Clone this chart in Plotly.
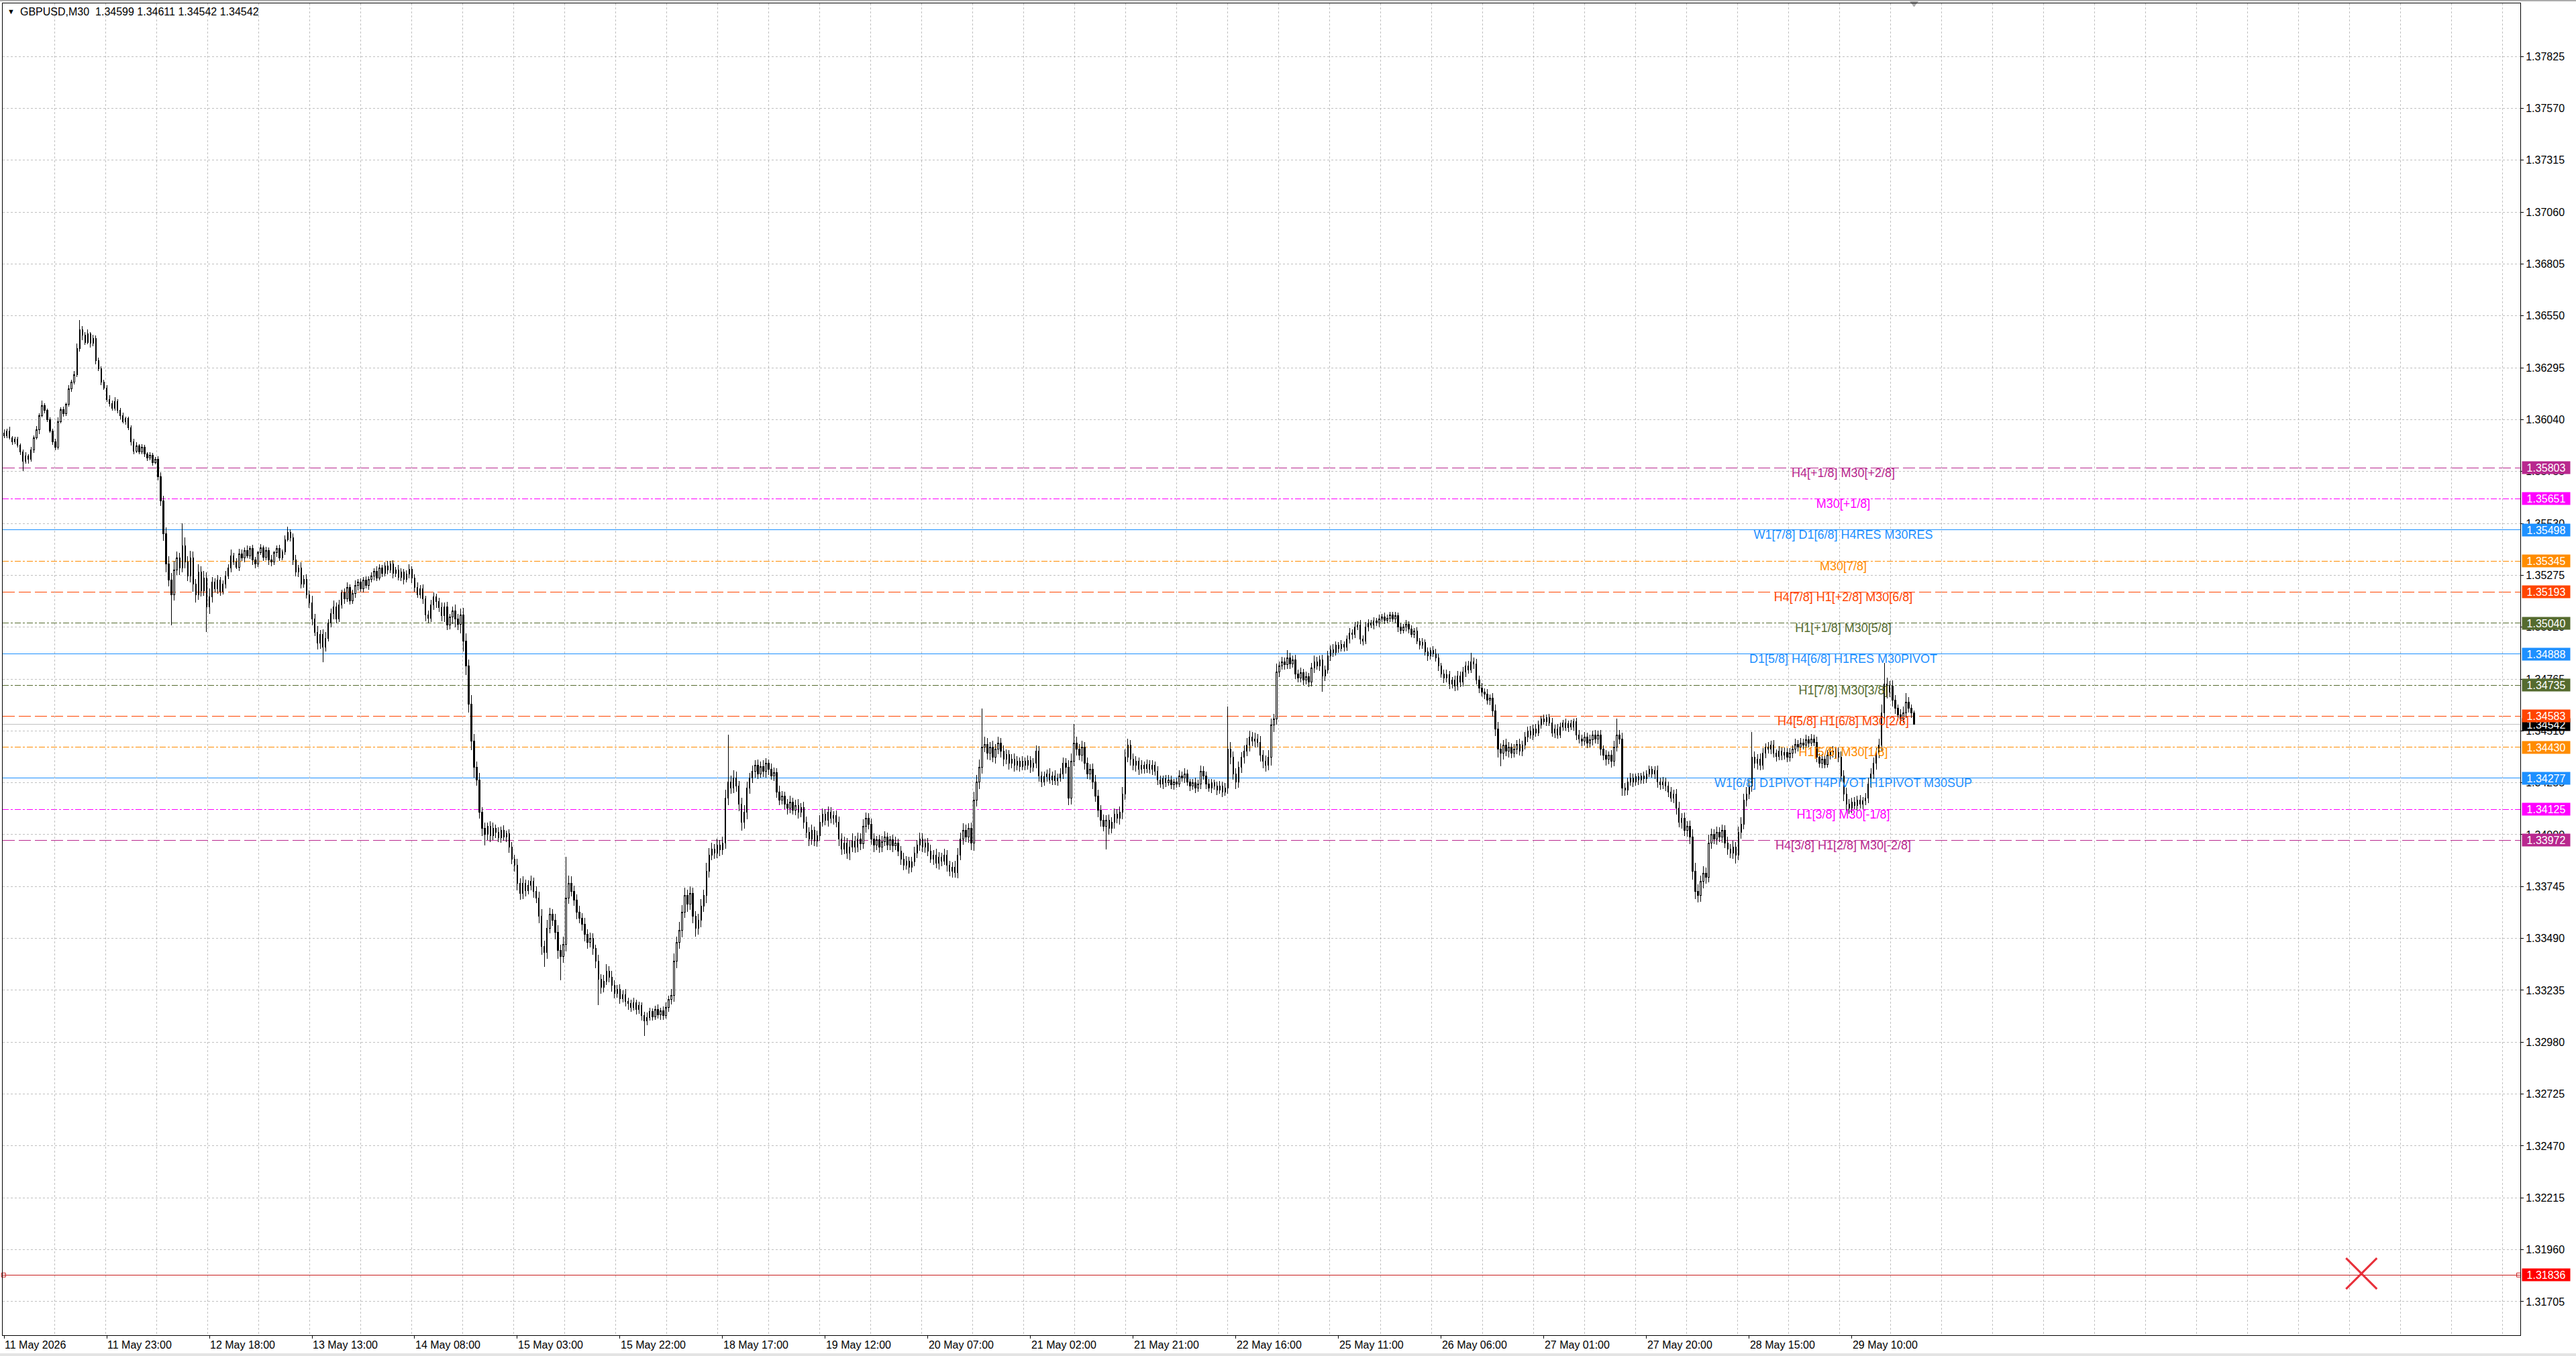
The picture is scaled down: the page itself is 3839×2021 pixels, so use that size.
import numpy as np
import pandas as pd
import plotly.graph_objects as go

SYMBOL = "GBPUSD,M30"
FIRST_BAR = "2026-05-11 04:00"
LAST_BAR = "2026-05-29 21:30"

# closes and wicks are in points (0.00001) above BASE; open = previous close
BASE = 1.3
FIRST_OPEN = 5975

# --- 11 May (04:00 .. 23:30)
C_11 = [5960, 5985, 5950, 5930, 5945, 5915, 5880, 5835,
        5860, 5845, 5890, 5950, 5990, 6060, 6110, 6085,
        6040, 5985, 5930, 5905, 6030, 6090, 6070, 6115,
        6190, 6225, 6260, 6390, 6480, 6455, 6420, 6460,
        6415, 6440, 6330, 6290, 6225, 6195, 6140, 6120]
U_11 = [15, 10, 20, 8, 12, 10, 8, 12,
        20, 10, 15, 12, 18, 10, 25, 10,
        8, 12, 10, 15, 20, 12, 15, 10,
        18, 12, 20, 25, 48, 20, 15, 22,
        10, 18, 12, 15, 10, 12, 15, 20]
D_11 = [10, 12, 8, 15, 10, 12, 15, 47,
        12, 20, 10, 15, 8, 20, 10, 15,
        12, 10, 15, 17, 12, 10, 15, 12,
        10, 15, 12, 10, 15, 25, 12, 10,
        20, 15, 18, 12, 15, 10, 12, 15]

# --- 12 May
C_12 = [6095, 6130, 6085, 6060, 6030, 6045, 6000, 5930,
        5885, 5910, 5880, 5905, 5870, 5850, 5865, 5830,
        5845, 5760, 5640, 5480, 5330, 5250, 5180, 5300,
        5360, 5310, 5420, 5340, 5270, 5360, 5230, 5180,
        5290, 5200, 5260, 5120, 5170, 5240, 5210, 5250,
        5195, 5230, 5270, 5310, 5370, 5340, 5315, 5380]
U_12 = [15, 20, 10, 12, 15, 10, 8, 12,
        15, 20, 10, 15, 12, 10, 15, 12,
        10, 15, 20, 25, 30, 40, 35, 45,
        30, 25, 109, 40, 30, 35, 30, 25,
        40, 30, 35, 30, 40, 25, 20, 25,
        15, 20, 25, 20, 30, 15, 20, 25]
D_12 = [12, 10, 15, 20, 10, 15, 12, 18,
        15, 10, 12, 10, 15, 12, 10, 15,
        10, 20, 25, 35, 40, 30, 150, 30,
        25, 35, 20, 30, 25, 30, 35, 40,
        25, 30, 25, 125, 35, 30, 20, 25,
        20, 15, 20, 15, 20, 15, 10, 20]

# --- 13 May
C_13 = [5360, 5395, 5370, 5405, 5350, 5330, 5385, 5410,
        5365, 5395, 5350, 5340, 5385, 5405, 5360, 5390,
        5450, 5485, 5460, 5350, 5290, 5310, 5230, 5255,
        5180, 5140, 5060, 4995, 4940, 4985, 4920, 4965,
        5040, 5085, 5120, 5060, 5130, 5190, 5160, 5215,
        5150, 5185, 5225, 5240, 5210, 5250, 5225, 5255]
U_13 = [20, 15, 25, 12, 20, 15, 10, 18,
        12, 20, 15, 25, 10, 15, 20, 12,
        20, 27, 15, 20, 25, 15, 30, 20,
        25, 20, 35, 25, 30, 20, 25, 30,
        20, 25, 30, 20, 25, 15, 20, 25,
        15, 20, 25, 15, 20, 15, 20, 15]
D_13 = [15, 20, 10, 15, 25, 20, 15, 10,
        20, 15, 25, 20, 15, 20, 15, 10,
        15, 10, 20, 25, 20, 25, 20, 15,
        20, 25, 30, 20, 30, 25, 72, 20,
        15, 20, 25, 20, 15, 20, 25, 15,
        20, 15, 20, 25, 15, 20, 15, 20]

# --- 14 May
C_14 = [5270, 5295, 5260, 5310, 5285, 5320, 5300, 5330,
        5285, 5300, 5265, 5290, 5255, 5280, 5305, 5260,
        5215, 5180, 5210, 5160, 5080, 5065, 5130, 5170,
        5145, 5115, 5075, 5120, 5030, 5070, 5100, 5060,
        5035, 5080, 4950, 4830, 4640, 4460, 4330, 4270,
        4110, 4030, 4000, 4040, 3995, 4030, 4010, 3985]
U_14 = [20, 15, 25, 20, 15, 20, 25, 15,
        20, 15, 25, 20, 15, 20, 25, 15,
        20, 25, 15, 20, 15, 20, 25, 20,
        15, 20, 25, 20, 25, 15, 20, 30,
        25, 30, 35, 40, 30, 45, 35, 30,
        35, 25, 30, 20, 25, 30, 20, 25]
D_14 = [15, 20, 15, 10, 20, 15, 20, 15,
        25, 20, 15, 20, 25, 15, 20, 25,
        20, 15, 20, 25, 30, 25, 20, 25,
        30, 20, 25, 30, 25, 20, 35, 40,
        30, 45, 50, 45, 40, 45, 50, 30,
        30, 35, 54, 25, 30, 20, 25, 20]

# --- 15 May
C_15 = [4020, 3990, 4005, 3940, 3880, 3850, 3760, 3710,
        3760, 3725, 3750, 3770, 3720, 3690, 3600, 3450,
        3420, 3540, 3610, 3580, 3520, 3430, 3400, 3460,
        3690, 3760, 3720, 3680, 3620, 3590, 3560, 3510,
        3470, 3490, 3440, 3380, 3290, 3250, 3280, 3330,
        3300, 3260, 3220, 3240, 3195, 3215, 3180, 3170]
U_15 = [20, 25, 15, 20, 25, 20, 30, 25,
        35, 20, 25, 30, 20, 25, 30, 35,
        30, 40, 30, 25, 30, 35, 30, 40,
        200, 40, 35, 30, 25, 30, 25, 30,
        25, 30, 25, 20, 30, 25, 30, 35,
        25, 30, 25, 20, 25, 20, 25, 20]
D_15 = [25, 20, 25, 30, 25, 30, 35, 30,
        25, 30, 20, 25, 30, 25, 35, 40,
        69, 30, 25, 30, 35, 40, 117, 30,
        35, 30, 25, 30, 35, 25, 30, 35,
        30, 25, 30, 35, 126, 30, 25, 20,
        25, 30, 25, 20, 25, 20, 25, 30]

# --- 18 May
C_18 = [3150, 3175, 3140, 3160, 3110, 3085, 3100, 3130,
        3105, 3140, 3115, 3135, 3110, 3150, 3190, 3210,
        3380, 3470, 3530, 3620, 3700, 3660, 3710, 3600,
        3540, 3580, 3650, 3700, 3820, 3900, 3930, 3910,
        3950, 3925, 3960, 4180, 4260, 4230, 4280, 4240,
        4150, 4060, 4110, 4230, 4280, 4310, 4340, 4300]
U_18 = [20, 25, 15, 20, 15, 20, 25, 20,
        15, 20, 25, 15, 20, 25, 20, 30,
        35, 30, 40, 35, 40, 30, 35, 30,
        25, 30, 35, 30, 40, 35, 30, 25,
        30, 25, 30, 40, 230, 30, 35, 30,
        25, 30, 35, 30, 25, 30, 25, 30]
D_18 = [20, 15, 25, 20, 25, 74, 20, 15,
        20, 15, 20, 25, 20, 15, 20, 25,
        30, 35, 30, 35, 30, 40, 30, 35,
        40, 30, 35, 30, 35, 30, 25, 30,
        25, 30, 25, 30, 35, 30, 25, 30,
        35, 40, 30, 35, 30, 25, 30, 25]

# --- 19 May
C_19 = [4335, 4310, 4350, 4320, 4290, 4305, 4210, 4170,
        4190, 4150, 4130, 4160, 4120, 4145, 4110, 4135,
        4060, 4010, 3980, 4020, 3970, 3995, 4060, 4100,
        4070, 4110, 4080, 4095, 4060, 3980, 3930, 3960,
        3910, 3940, 3970, 3940, 3980, 3955, 4040, 4080,
        4050, 3980, 3950, 3975, 3940, 3965, 3990, 3950]
U_19 = [25, 30, 25, 20, 30, 25, 20, 30,
        25, 20, 25, 30, 20, 25, 30, 20,
        25, 30, 25, 30, 20, 25, 35, 30,
        25, 30, 25, 20, 25, 30, 25, 30,
        25, 30, 35, 25, 30, 25, 35, 30,
        25, 30, 25, 20, 25, 30, 25, 20]
D_19 = [20, 25, 30, 25, 20, 25, 30, 25,
        20, 25, 30, 25, 20, 25, 30, 25,
        30, 25, 35, 30, 25, 30, 25, 20,
        25, 30, 25, 30, 25, 35, 30, 25,
        30, 35, 25, 30, 25, 30, 25, 30,
        25, 30, 35, 25, 30, 25, 20, 25]

# --- 20 May
C_20 = [3975, 3945, 3960, 3920, 3880, 3850, 3870, 3840,
        3865, 3910, 3950, 3980, 3940, 3960, 3920, 3880,
        3900, 3860, 3890, 3870, 3900, 3850, 3820, 3840,
        3815, 3900, 3980, 4020, 3990, 4030, 3960, 4170,
        4260, 4330, 4430, 4445, 4400, 4430, 4380, 4420,
        4450, 4410, 4370, 4395, 4350, 4370, 4340, 4360]
U_20 = [20, 25, 30, 20, 25, 30, 25, 20,
        25, 30, 25, 30, 25, 20, 25, 30,
        25, 30, 25, 20, 30, 25, 20, 25,
        30, 35, 30, 35, 30, 25, 30, 40,
        35, 40, 190, 35, 30, 25, 30, 25,
        30, 25, 30, 25, 20, 25, 30, 25]
D_20 = [25, 30, 20, 25, 30, 25, 20, 30,
        25, 20, 25, 30, 25, 30, 25, 20,
        30, 25, 30, 25, 20, 30, 25, 30,
        25, 30, 25, 30, 25, 30, 35, 40,
        30, 35, 30, 25, 30, 35, 25, 30,
        25, 30, 35, 25, 30, 25, 30, 25]

# --- 21 May
C_21 = [4335, 4360, 4340, 4365, 4330, 4350, 4410, 4290,
        4260, 4285, 4300, 4270, 4290, 4265, 4280, 4300,
        4350, 4330, 4180, 4360, 4450, 4420, 4390, 4430,
        4350, 4300, 4320, 4260, 4190, 4120, 4070, 4040,
        4070, 4030, 4060, 4100, 4080, 4110, 4200, 4380,
        4440, 4370, 4340, 4360, 4320, 4340, 4325, 4345]
U_21 = [20, 25, 20, 25, 20, 25, 30, 25,
        20, 25, 20, 25, 20, 25, 20, 25,
        30, 25, 35, 40, 94, 30, 25, 30,
        25, 30, 25, 30, 35, 30, 25, 30,
        25, 30, 25, 30, 25, 30, 35, 40,
        30, 25, 30, 25, 20, 25, 20, 25]
D_21 = [25, 20, 25, 20, 25, 20, 25, 30,
        25, 20, 25, 20, 25, 20, 25, 20,
        25, 30, 35, 30, 25, 30, 25, 30,
        30, 25, 30, 35, 30, 35, 30, 25,
        113, 30, 25, 30, 25, 30, 35, 30,
        25, 30, 25, 30, 25, 20, 25, 20]

# --- 22 May
C_22 = [4320, 4340, 4310, 4270, 4250, 4275, 4255, 4270,
        4245, 4260, 4250, 4290, 4280, 4300, 4260, 4240,
        4255, 4230, 4250, 4310, 4290, 4250, 4230, 4255,
        4240, 4220, 4240, 4210, 4230, 4420, 4380, 4300,
        4260, 4330, 4380, 4410, 4440, 4480, 4460, 4470,
        4455, 4390, 4360, 4340, 4380, 4540, 4570, 4800]
U_22 = [20, 25, 20, 25, 20, 15, 20, 25,
        20, 15, 20, 25, 20, 25, 20, 15,
        20, 25, 20, 30, 25, 20, 25, 20,
        15, 20, 25, 20, 25, 210, 35, 30,
        25, 30, 25, 30, 35, 30, 25, 30,
        25, 30, 25, 30, 35, 30, 25, 40]
D_22 = [20, 25, 20, 25, 20, 25, 20, 15,
        20, 25, 20, 15, 20, 25, 20, 25,
        20, 25, 20, 25, 20, 25, 20, 25,
        20, 25, 20, 25, 20, 30, 35, 30,
        35, 30, 25, 30, 25, 30, 25, 30,
        25, 30, 35, 30, 25, 40, 35, 30]

# --- 25 May
C_25 = [4830, 4850, 4835, 4870, 4840, 4860, 4790, 4770,
        4795, 4760, 4775, 4750, 4820, 4850, 4830, 4860,
        4780, 4810, 4880, 4910, 4895, 4930, 4915, 4935,
        4920, 4960, 4990, 4985, 5020, 5030, 4960, 4950,
        5020, 5040, 5030, 5050, 5040, 5060, 5070, 5055,
        5065, 5080, 5060, 5075, 5020, 5005, 5020, 5035]
U_25 = [20, 25, 20, 37, 25, 20, 25, 20,
        25, 20, 25, 20, 25, 30, 25, 20,
        25, 20, 25, 20, 25, 20, 15, 20,
        15, 20, 25, 20, 25, 20, 25, 20,
        25, 20, 15, 20, 15, 20, 15, 20,
        15, 14, 15, 20, 15, 20, 15, 20]
D_25 = [25, 20, 25, 20, 25, 20, 25, 20,
        20, 25, 20, 25, 20, 25, 20, 25,
        76, 25, 20, 25, 20, 15, 20, 15,
        20, 15, 20, 25, 20, 15, 25, 20,
        15, 20, 15, 20, 15, 20, 15, 20,
        15, 20, 15, 20, 25, 20, 15, 20]

# --- 26 May
C_26 = [5010, 4985, 5000, 4950, 4930, 4945, 4900, 4880,
        4905, 4890, 4870, 4830, 4790, 4770, 4785, 4740,
        4760, 4730, 4780, 4750, 4800, 4830, 4810, 4850,
        4840, 4760, 4720, 4700, 4690, 4660, 4670, 4610,
        4520, 4420, 4400, 4440, 4410, 4430, 4400, 4420,
        4445, 4410, 4440, 4480, 4510, 4490, 4520, 4500]
U_26 = [15, 20, 15, 20, 15, 20, 15, 20,
        15, 20, 25, 20, 15, 20, 25, 20,
        15, 20, 25, 20, 25, 20, 25, 45,
        20, 25, 20, 25, 20, 25, 20, 25,
        30, 35, 30, 25, 30, 25, 20, 25,
        20, 25, 20, 25, 20, 25, 20, 25]
D_26 = [20, 15, 20, 15, 20, 15, 20, 25,
        20, 15, 20, 25, 20, 25, 20, 25,
        20, 25, 20, 25, 20, 25, 20, 15,
        25, 20, 25, 20, 25, 20, 25, 30,
        35, 40, 64, 30, 25, 30, 25, 20,
        25, 20, 25, 20, 25, 20, 25, 20]

# --- 27 May
C_27 = [4540, 4570, 4555, 4575, 4550, 4500, 4520, 4490,
        4530, 4550, 4525, 4545, 4530, 4555, 4490, 4470,
        4460, 4480, 4450, 4465, 4490, 4470, 4490, 4420,
        4390, 4370, 4390, 4360, 4430, 4490, 4470, 4230,
        4220, 4260, 4280, 4260, 4285, 4270, 4290, 4275,
        4300, 4320, 4300, 4315, 4260, 4245, 4260, 4240]
U_27 = [20, 15, 20, 15, 20, 25, 20, 25,
        20, 15, 20, 15, 20, 15, 20, 25,
        20, 25, 20, 25, 20, 25, 20, 25,
        20, 25, 20, 25, 30, 80, 25, 30,
        25, 20, 25, 20, 15, 20, 15, 20,
        15, 20, 15, 20, 25, 20, 25, 20]
D_27 = [15, 20, 15, 20, 15, 20, 25, 20,
        15, 20, 15, 20, 15, 20, 25, 20,
        25, 20, 25, 20, 25, 20, 25, 30,
        25, 30, 25, 30, 25, 20, 25, 40,
        30, 25, 20, 25, 20, 25, 20, 25,
        20, 15, 20, 25, 30, 25, 20, 25]

# --- 28 May
C_28 = [4210, 4180, 4200, 4130, 4060, 4080, 4020, 4040,
        3990, 3820, 3720, 3700, 3770, 3810, 3790, 3960,
        4000, 3980, 4010, 3990, 4020, 3960, 3930, 3910,
        3940, 3900, 4010, 4050, 4170, 4200, 4240, 4380,
        4350, 4370, 4340, 4400, 4430, 4420, 4440, 4400,
        4385, 4410, 4390, 4405, 4380, 4400, 4420, 4445]
U_28 = [20, 25, 20, 25, 30, 25, 30, 25,
        30, 35, 40, 35, 30, 35, 30, 40,
        30, 25, 30, 25, 30, 25, 30, 25,
        30, 25, 30, 35, 30, 35, 30, 126,
        30, 25, 30, 25, 20, 25, 20, 25,
        20, 25, 20, 25, 20, 25, 20, 25]
D_28 = [25, 20, 25, 30, 25, 30, 25, 30,
        35, 40, 35, 33, 30, 35, 30, 25,
        30, 25, 30, 25, 30, 25, 30, 25,
        30, 42, 25, 30, 25, 30, 25, 30,
        25, 30, 25, 20, 25, 20, 25, 20,
        25, 20, 25, 20, 25, 20, 25, 20]

# --- 29 May (00:00 .. 21:30)
C_29 = [4430, 4450, 4440, 4465, 4450, 4470, 4455, 4380,
        4350, 4370, 4345, 4390, 4410, 4395, 4405, 4380,
        4290, 4200, 4150, 4130, 4160, 4145, 4170, 4150,
        4165, 4180, 4250, 4300, 4350, 4400, 4440, 4600,
        4740, 4700, 4730, 4660, 4620, 4590, 4570, 4600,
        4650, 4620, 4599, 4542]
U_29 = [20, 25, 20, 25, 20, 25, 20, 25,
        20, 25, 20, 25, 20, 25, 20, 25,
        30, 25, 30, 25, 20, 25, 20, 25,
        20, 25, 30, 25, 30, 25, 30, 40,
        104, 30, 25, 30, 25, 20, 25, 30,
        47, 25, 20, 12]
D_29 = [20, 15, 20, 15, 20, 15, 20, 25,
        20, 25, 20, 15, 20, 15, 20, 25,
        30, 35, 30, 29, 25, 20, 25, 20,
        25, 20, 25, 20, 25, 30, 25, 30,
        35, 30, 25, 30, 25, 30, 25, 20,
        25, 20, 25, 0]

DAYS = [(C_11, U_11, D_11), (C_12, U_12, D_12), (C_13, U_13, D_13),
        (C_14, U_14, D_14), (C_15, U_15, D_15), (C_18, U_18, D_18),
        (C_19, U_19, D_19), (C_20, U_20, D_20), (C_21, U_21, D_21),
        (C_22, U_22, D_22), (C_25, U_25, D_25), (C_26, U_26, D_26),
        (C_27, U_27, D_27), (C_28, U_28, D_28), (C_29, U_29, D_29)]

# Murrey math levels drawn on the chart
LEVEL_PRICES = [1.35803, 1.35651, 1.35498, 1.35345, 1.35193, 1.35040, 1.34888,
                1.34735, 1.34583, 1.34430, 1.34277, 1.34125, 1.33972]
LEVEL_NAMES = ["H4[+1/8] M30[+2/8]", "M30[+1/8]", "W1[7/8] D1[6/8] H4RES M30RES",
               "M30[7/8]", "H4[7/8] H1[+2/8] M30[6/8]", "H1[+1/8] M30[5/8]",
               "D1[5/8] H4[6/8] H1RES M30PIVOT", "H1[7/8] M30[3/8]",
               "H4[5/8] H1[6/8] M30[2/8]", "H1[5/8] M30[1/8]",
               "W1[6/8] D1PIVOT H4PIVOT H1PIVOT M30SUP", "H1[3/8] M30[-1/8]",
               "H4[3/8] H1[2/8] M30[-2/8]"]
LEVEL_KIND = ["h4", "m30", "pivot", "orange", "red", "olive", "pivot",
              "olive", "red", "orange", "pivot", "m30", "h4"]

RED_LEVEL = 1.31836
ALERT_BAR = 872.6
ALERT_PRICE = 1.31843

Y_TICKS = [1.31705, 1.31960, 1.32215, 1.32470, 1.32725, 1.32980, 1.33235, 1.33490,
           1.33745, 1.34000, 1.34255, 1.34510, 1.34765, 1.35020, 1.35275, 1.35530,
           1.35785, 1.36040, 1.36295, 1.36550, 1.36805, 1.37060, 1.37315, 1.37570,
           1.37825]
X_TICK_LABELS = ["11 May 2026", "11 May 23:00", "12 May 18:00", "13 May 13:00",
                 "14 May 08:00", "15 May 03:00", "15 May 22:00", "18 May 17:00",
                 "19 May 12:00", "20 May 07:00", "21 May 02:00", "21 May 21:00",
                 "22 May 16:00", "25 May 11:00", "26 May 06:00", "27 May 01:00",
                 "27 May 20:00", "28 May 15:00", "29 May 10:00"]

# styles
DASH = "18px,6px"
DASHDOT = "9px,3px,3px,3px"
KIND_STYLE = {
    "h4": ("#B8288E", DASH),
    "m30": ("#FF00FF", DASHDOT),
    "pivot": ("#1E90FF", "solid"),
    "orange": ("#FF8C00", DASHDOT),
    "red": ("#FF4500", DASH),
    "olive": ("#556B2F", DASHDOT),
}
FONT = "Liberation Sans"
GRID = "#C0C0C0"
X_RANGE = [-0.5, 931.4]
Y_RANGE = [1.315401, 1.380855]
LABEL_BAR = 680.8
PLOT_H = 2021 - 5 - 31

# ---------------------------------------------------------------------------
close_pts = np.concatenate([np.array(d[0], float) for d in DAYS])
up_pts = np.concatenate([np.array(d[1], float) for d in DAYS])
dn_pts = np.concatenate([np.array(d[2], float) for d in DAYS])
open_pts = np.r_[FIRST_OPEN, close_pts[:-1]]
high_pts = np.maximum(open_pts, close_pts) + up_pts
low_pts = np.minimum(open_pts, close_pts) - dn_pts

to_price = lambda p: np.round(BASE + p / 1e5, 5)
o, h, l, c = map(to_price, (open_pts, high_pts, low_pts, close_pts))

times = pd.date_range(FIRST_BAR, LAST_BAR, freq="30min")
times = times[times.dayofweek < 5]
assert len(times) == len(c), (len(times), len(c))
bars = np.arange(len(c))

tick_vals = [0]
for lab in X_TICK_LABELS[1:]:
    t = pd.to_datetime(lab + " 2026", format="%d %b %H:%M %Y")
    tick_vals.append(int(np.searchsorted(times, t)))

# vertical grid every 76 px
px_per_bar = 3752 / (X_RANGE[1] - X_RANGE[0])
grid_x = [(81.5 + 76 * k - 4) / px_per_bar + X_RANGE[0] for k in range(49)]

fig = go.Figure()

# level captions (under the candles, like the terminal draws them)
fig.add_trace(go.Scatter(
    x=[LABEL_BAR] * len(LEVEL_PRICES), y=LEVEL_PRICES, mode="text",
    text=LEVEL_NAMES, textposition="bottom center",
    textfont=dict(family=FONT, size=18,
                  color=[KIND_STYLE[k][0] for k in LEVEL_KIND]),
    hoverinfo="skip", showlegend=False))

fig.add_trace(go.Candlestick(
    x=bars, open=o, high=h, low=l, close=c,
    increasing=dict(line=dict(color="black", width=1), fillcolor="white"),
    decreasing=dict(line=dict(color="black", width=1), fillcolor="black"),
    whiskerwidth=0, hoverinfo="skip", showlegend=False))

# red alert cross and line handles
fig.add_trace(go.Scatter(
    x=[ALERT_BAR], y=[ALERT_PRICE], mode="markers",
    marker=dict(symbol="x-thin", size=46, line=dict(color="#E8303A", width=3)),
    hoverinfo="skip", showlegend=False))
fig.add_trace(go.Scatter(
    x=[X_RANGE[0] + 0.3, X_RANGE[1] - 0.6], y=[RED_LEVEL, RED_LEVEL], mode="markers",
    marker=dict(symbol="square-open", size=6, color="#C81E1E", line=dict(width=1)),
    hoverinfo="skip", showlegend=False, cliponaxis=False))
# chart shift marker
fig.add_trace(go.Scatter(
    x=[bars[-1]], y=[Y_RANGE[1]], mode="markers",
    marker=dict(symbol="triangle-down", size=11, color="#A8A8A8"),
    hoverinfo="skip", showlegend=False, cliponaxis=False))

shapes = []
for price, kind in zip(LEVEL_PRICES, LEVEL_KIND):
    col, dash = KIND_STYLE[kind]
    shapes.append(dict(type="line", xref="paper", x0=0, x1=1, yref="y", y0=price, y1=price,
                       line=dict(color=col, width=1, dash=dash), layer="between"))
shapes.append(dict(type="line", xref="paper", x0=0, x1=1, yref="y", y0=c[-1], y1=c[-1],
                   line=dict(color="#C0C0C0", width=1), layer="between"))
shapes.append(dict(type="line", xref="paper", x0=0, x1=1, yref="y", y0=RED_LEVEL, y1=RED_LEVEL,
                   line=dict(color="#C81E1E", width=1), layer="between"))
# window edges around the chart
shapes.append(dict(type="rect", xref="paper", yref="paper", x0=-0.01, x1=1.03,
                   y0=1 + 3 / PLOT_H, y1=1 + 6 / PLOT_H, line=dict(width=0),
                   fillcolor="#ABABAB", layer="below"))
shapes.append(dict(type="rect", xref="paper", yref="paper", x0=-0.01, x1=1.03,
                   y0=-32 / PLOT_H, y1=-27 / PLOT_H, line=dict(width=0),
                   fillcolor="#E4E4E4", layer="below"))

def price_tag(price, bg):
    return dict(xref="paper", x=1, xanchor="left", xshift=2, yref="y", y=price,
                yanchor="middle", text=f"{price:.5f}", showarrow=False,
                font=dict(family=FONT, size=16, color="white"), bgcolor=bg,
                width=69, height=16, borderpad=1, align="center")

annotations = [price_tag(c[-1], "black"), price_tag(RED_LEVEL, "#FF0000")]
for price, kind in zip(LEVEL_PRICES, LEVEL_KIND):
    annotations.append(price_tag(price, KIND_STYLE[kind][0]))

annotations.append(dict(xref="paper", x=0, xanchor="left", xshift=5, yref="paper", y=1,
                        yanchor="middle", yshift=-12, text="▼", showarrow=False,
                        font=dict(family=FONT, size=11, color="black")))
annotations.append(dict(xref="paper", x=0, xanchor="left", xshift=24, yref="paper", y=1,
                        yanchor="middle", yshift=-12, showarrow=False,
                        text=f"{SYMBOL}  {o[-1]:.5f} {h[-1]:.5f} {l[-1]:.5f} {c[-1]:.5f}",
                        font=dict(family=FONT, size=16, color="black")))

fig.update_layout(
    width=3839, height=2021,
    margin=dict(l=4, r=83, t=5, b=31, pad=0),
    paper_bgcolor="white", plot_bgcolor="white",
    showlegend=False, hovermode=False, boxgap=0.5,
    shapes=shapes, annotations=annotations,
    xaxis=dict(
        range=X_RANGE, rangeslider=dict(visible=False),
        tickmode="array", tickvals=tick_vals, ticktext=X_TICK_LABELS,
        ticks="outside", ticklen=4, tickcolor="black",
        ticklabelposition="outside right",
        tickfont=dict(family=FONT, size=16, color="black"),
        showgrid=False, zeroline=False,
        minor=dict(tickmode="array", tickvals=grid_x, showgrid=True,
                   gridcolor=GRID, griddash="3px,3px", gridwidth=1, ticks=""),
        showline=True, mirror=True, linecolor="black", linewidth=1,
    ),
    yaxis=dict(
        range=Y_RANGE, side="right",
        tickmode="array", tickvals=Y_TICKS, ticktext=[f"{v:.5f}" for v in Y_TICKS],
        ticks="outside", ticklen=4, tickcolor="black",
        tickfont=dict(family=FONT, size=16, color="black"),
        showgrid=True, gridcolor=GRID, griddash="3px,3px", gridwidth=1,
        zeroline=False,
        showline=True, mirror=True, linecolor="black", linewidth=1,
    ),
)

# no page margin, and pixel-snapped candles and level lines like the terminal draws them
page_js = ("document.body.style.margin='0px';"
           "document.querySelectorAll('.boxlayer path, .shapelayer path').forEach("
           "function(p){p.style.shapeRendering='crispEdges';});")
fig.write_html("out.html", config={"displayModeBar": False}, post_script=page_js)
